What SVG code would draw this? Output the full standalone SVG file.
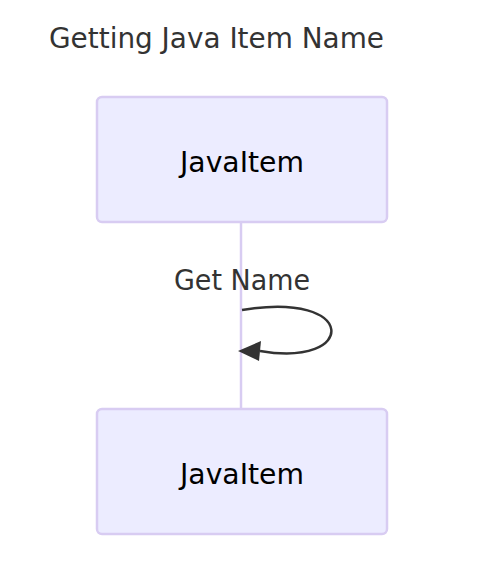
<svg xmlns="http://www.w3.org/2000/svg" width="500" height="574" viewBox="0 0 500 574">
<style>
.actor{fill:#ECECFF;stroke:#D8CCF2;stroke-width:2.5}
.t{font-family:"DejaVu Sans",Verdana,sans-serif;fill:#333}
.at{font-family:"DejaVu Sans",Verdana,sans-serif;fill:#000;font-size:28px}
</style>
<defs>
<marker id="ah" markerWidth="12" markerHeight="12" refX="10" refY="5" viewBox="0 0 12 10" orient="auto" markerUnits="userSpaceOnUse" >
<path d="M0,0 L12,5 L0,10 z" fill="#333"/>
</marker>
</defs>
<rect width="500" height="574" fill="#fff"/>
<text class="t" x="49" y="48" font-size="28" textLength="335" lengthAdjust="spacingAndGlyphs">Getting Java Item Name</text>
<g id="connectors">
<line x1="241" y1="222" x2="241" y2="409" stroke="#D8CCF2" stroke-width="2.5"/>
<path d="M242,310 C358,290 358,368 260,351" fill="none" stroke="#333" stroke-width="2.5"/>
<path d="M238,351 L261,341 L259,361 z" fill="#333"/>
<text class="t" x="242" y="290" font-size="28" text-anchor="middle" textLength="136" lengthAdjust="spacingAndGlyphs">Get Name</text>
</g>
<g id="actor-top">
<rect class="actor" x="97" y="97" width="290" height="125" rx="5"/>
<text class="at" x="242" y="172" text-anchor="middle" textLength="124" lengthAdjust="spacingAndGlyphs">JavaItem</text>
</g>
<g id="actor-bottom">
<rect class="actor" x="97" y="409" width="290" height="125" rx="5"/>
<text class="at" x="242" y="484" text-anchor="middle" textLength="124" lengthAdjust="spacingAndGlyphs">JavaItem</text>
</g>
</svg>
